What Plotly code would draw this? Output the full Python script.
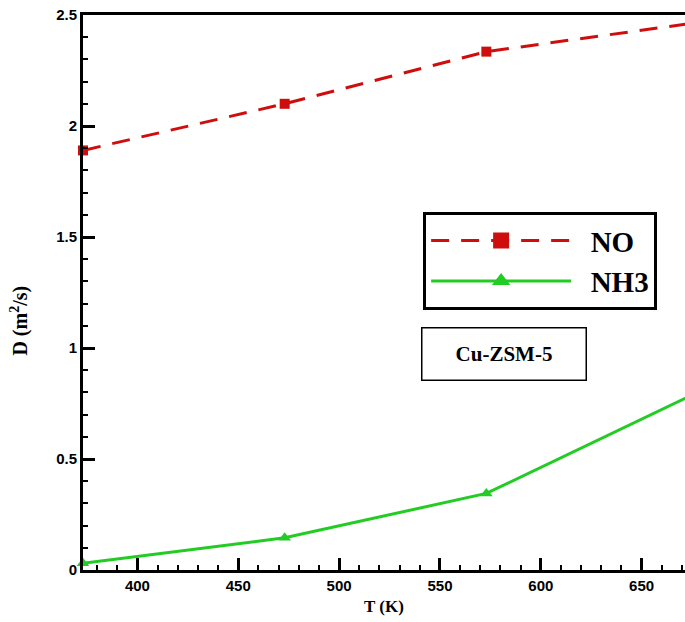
import plotly.graph_objects as go

temps = [373, 473, 573, 673]
d_no = [1.89, 2.10, 2.335, 2.46]
d_nh3 = [0.03, 0.145, 0.345, 0.78]

x_ticks = [400, 450, 500, 550, 600, 650]
y_ticks = [0, 0.5, 1, 1.5, 2, 2.5]
y_tick_text = ["0", "0.5", "1", "1.5", "2", "2.5"]

RED = "#d00d0d"
GREEN = "#22cc22"
SERIF = "Liberation Serif, Times New Roman"

fig = go.Figure()
fig.add_trace(go.Scatter(
    x=temps, y=d_no, name="NO", mode="lines+markers", showlegend=False,
    line=dict(color=RED, width=3, dash="18px,12px"),
    marker=dict(symbol="square", size=10, color=RED),
    cliponaxis=False,
))
fig.add_trace(go.Scatter(
    x=temps, y=d_nh3, name="NH3", mode="lines+markers", showlegend=False,
    line=dict(color=GREEN, width=3),
    marker=dict(symbol="triangle-up", size=11, color=GREEN),
    cliponaxis=False,
))
# legend entries (bigger symbols, as in the reference legend)
fig.add_trace(go.Scatter(
    x=[None], y=[None], name="&nbsp;&nbsp;NO", mode="lines+markers",
    line=dict(color=RED, width=3, dash="18px,12px"),
    marker=dict(symbol="square", size=20, color=RED),
))
fig.add_trace(go.Scatter(
    x=[None], y=[None], name="&nbsp;&nbsp;NH3", mode="lines+markers",
    line=dict(color=GREEN, width=3),
    marker=dict(symbol="triangle-up", size=20, color=GREEN),
))

axis_font = dict(family="Liberation Sans, Arial", size=15, color="black", weight="bold")

fig.update_layout(
    width=685, height=622,
    margin=dict(l=83, r=0, t=15, b=52),
    paper_bgcolor="white", plot_bgcolor="white",
    showlegend=True,
    legend=dict(
        x=0.565, y=0.645, xanchor="left", yanchor="top",
        bordercolor="black", borderwidth=3, bgcolor="white",
        font=dict(family=SERIF, size=29, color="black", weight="bold"),
        itemwidth=140, tracegroupgap=0, itemsizing="trace",
    ),
    xaxis=dict(
        range=[373, 671.5], tickvals=x_ticks,
        ticks="inside", ticklen=12, tickwidth=2.5, tickcolor="black",
        minor=dict(dtick=10, ticks="inside", ticklen=5, tickwidth=1.5, tickcolor="black"),
        showline=True, linecolor="black", linewidth=3, mirror=True,
        showgrid=False, zeroline=False,
        tickfont=axis_font,
        title=dict(text="T (K)", standoff=8,
                   font=dict(family=SERIF, size=17, color="black", weight="bold")),
    ),
    yaxis=dict(
        range=[0, 2.5], tickvals=y_ticks, ticktext=y_tick_text,
        ticks="inside", ticklen=12, tickwidth=2.5, tickcolor="black",
        minor=dict(dtick=0.1, ticks="inside", ticklen=5, tickwidth=1.5, tickcolor="black"),
        showline=True, linecolor="black", linewidth=3, mirror=False,
        showgrid=False, zeroline=False,
        tickfont=axis_font,
    ),
    annotations=[
        dict(text="D (m<sup>2</sup>/s)", xref="paper", yref="paper",
             x=-0.105, y=0.449, textangle=-90, showarrow=False,
             xanchor="center", yanchor="middle",
             font=dict(family=SERIF, size=20, color="black", weight="bold")),
        dict(text="Cu-ZSM-5", xref="paper", yref="paper",
             x=0.699, y=0.389, showarrow=False,
             xanchor="center", yanchor="middle",
             width=161, height=49, bordercolor="black", borderwidth=1.5, bgcolor="white",
             font=dict(family=SERIF, size=21, color="black", weight="bold")),
    ],
)

fig.write_html(
    "out.html",
    config={"displayModeBar": False},
    post_script="document.body.style.margin='0';document.body.style.overflow='hidden';",
)
